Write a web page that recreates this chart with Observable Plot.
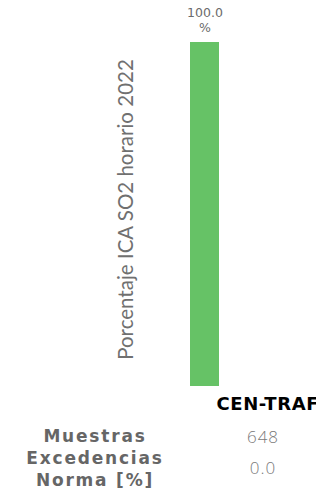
<!DOCTYPE html>
<html>
<head>
<meta charset="utf-8">
<script src="https://cdn.jsdelivr.net/npm/d3@7"></script>
<script src="https://cdn.jsdelivr.net/npm/@observablehq/plot@0.6"></script>
<style>
  html, body { margin: 0; padding: 0; background: #fff; overflow: hidden; width: 316px; height: 491px; }
  #chart svg { display: block; overflow: visible; }
  #table { position: relative; width: 316px; height: 71px; font-family: "DejaVu Sans", sans-serif; }
  .lbl { position: absolute; width: 190px; left: 0; text-align: center; color: #666; font-weight: bold; font-size: 17px; letter-spacing: 1.8px; line-height: 22px; }
  .val { position: absolute; width: 100px; left: 213px; text-align: center; color: #7a7a7a; font-family: "Open Sans", "DejaVu Sans", sans-serif; font-weight: 300; font-size: 17px; letter-spacing: 1px; }
</style>
</head>
<body>
<div id="chart"></div>
<div id="table"></div>
<script>
const stations = ["CEN-TRAF"];
const percentages = [100.0];
const samples = [648];
const exceedances = [0.0];
const axisTitle = "Porcentaje ICA SO2 horario 2022";
const rowLabels = ["Muestras", "Excedencias\nNorma [%]"];

const data = stations.map((s, i) => ({station: s, pct: percentages[i]}));

const chart = Plot.plot({
  width: 316,
  height: 420,
  marginTop: 42,
  marginBottom: 34,
  marginLeft: 190,
  marginRight: 97,
  x: {domain: stations, padding: 0, label: null, axis: null},
  y: {domain: [0, 100], axis: null},
  marks: [
    Plot.barY(data, {x: "station", y: "pct", fill: "#66c266"}),
    Plot.text(data, {
      x: "station", y: "pct",
      text: d => d.pct.toFixed(1) + "\n%",
      lineAnchor: "bottom", dy: -11, fontSize: 12.5, lineHeight: 1.15,
      fill: "#6b6b6b", fontFamily: "DejaVu Sans", ariaLabel: "pctlabel"
    }),
    Plot.text([axisTitle], {
      frameAnchor: "left", rotate: -90, dx: -64, dy: -5, textAnchor: "middle",
      text: d => d, fontSize: 20.5, fill: "#707070", fontFamily: "Lato"
    }),
    Plot.axisX({
      tickSize: 0, tickPadding: 11, textAnchor: "start", dx: 11.5,
      fontSize: 18, fontWeight: "bold", fill: "#000", fontFamily: "DejaVu Sans", label: null
    })
  ]
});
document.getElementById("chart").appendChild(chart);
d3.select(chart).selectAll('g[aria-label="pctlabel"] text').style("letter-spacing", "1.8px");
d3.select(chart).selectAll('g[aria-label="x-axis tick label"] text').style("letter-spacing", "0.6px");

const table = document.getElementById("table");
const rows = [
  {label: rowLabels[0], value: String(samples[0]), top: 5, valTop: 5},
  {label: rowLabels[1], value: exceedances[0].toFixed(1), top: 27, valTop: 36}
];
rows.forEach(r => {
  const l = document.createElement("div");
  l.className = "lbl";
  l.style.top = r.top + "px";
  l.innerHTML = r.label.replace("\n", "<br>");
  table.appendChild(l);
  const v = document.createElement("div");
  v.className = "val";
  v.style.top = r.valTop + "px";
  v.textContent = r.value;
  table.appendChild(v);
});
</script>
</body>
</html>
